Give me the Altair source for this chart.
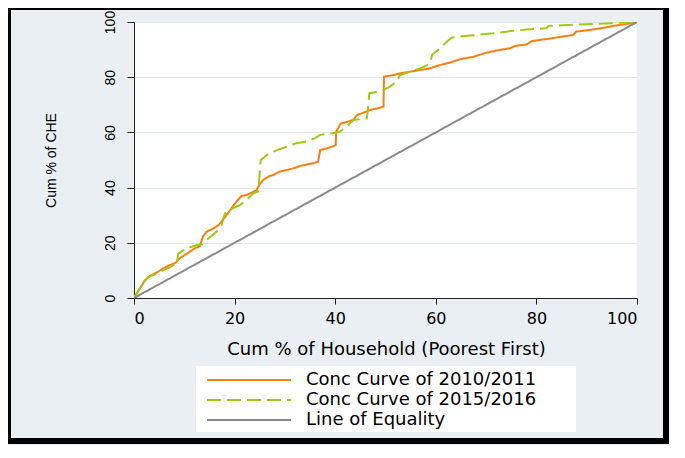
import altair as alt
import pandas as pd

# Concentration curve 2010/2011 (cum % households, cum % CHE)
x_2010 = [0, 1.2, 2.2, 3.2, 4.8, 5.8, 7.2, 8.2, 9.1, 10.5, 12.1, 13.1, 13.7, 14.4, 15.8, 16.8,
          17.4, 18.4, 19.5, 20.4, 21.4, 22.4, 23.4, 24.4, 24.9, 25.7, 26.7, 27.7, 29.0, 30.4,
          31.7, 33.0, 34.3, 35.6, 36.6, 37.0, 38.3, 39.6, 40.1, 40.2, 41.1, 42.3, 43.6, 44.3,
          45.6, 46.9, 48.3, 49.6, 49.7, 51.6, 52.9, 54.9, 56.9, 58.8, 60.8, 62.8, 64.8, 67.5,
          70.1, 72.8, 74.8, 75.7, 78.1, 79.1, 82.0, 84.7, 87.3, 87.9, 91.3, 94.0, 95.3, 98.0, 100]
y_2010 = [0, 3.5, 6.5, 8.0, 9.5, 10.7, 12.0, 12.6, 14.4, 16.1, 18.0, 18.8, 22.2, 24.0, 25.2, 26.4,
          27.7, 30.0, 32.8, 35.0, 37.0, 37.3, 38.2, 39.1, 41.0, 42.8, 44.0, 44.6, 45.8, 46.4,
          47.0, 47.8, 48.4, 48.8, 49.4, 53.6, 54.2, 55.0, 55.4, 60.3, 63.2, 63.8, 64.5, 66.3,
          67.1, 68.1, 68.7, 69.3, 80.2, 80.8, 81.4, 82.0, 82.6, 83.2, 84.4, 85.3, 86.5, 87.4,
          88.9, 89.9, 90.5, 91.3, 91.9, 93.1, 93.8, 94.6, 95.3, 96.5, 97.3, 98.1, 98.6, 99.3, 100]

# Concentration curve 2015/2016
x_2015 = [0, 0.9, 1.9, 2.8, 3.8, 4.8, 5.8, 7.0, 8.5, 8.8, 10.5, 12.5, 13.5, 14.4, 16.4, 17.4,
          18.1, 19.1, 21.1, 22.4, 23.7, 24.7, 25.2, 26.4, 28.4, 30.4, 32.3, 34.3, 36.0, 37.0,
          39.6, 41.0, 42.3, 43.6, 46.3, 46.8, 48.9, 49.6, 50.9, 52.2, 52.9, 54.9, 56.9, 58.3,
          58.8, 59.3, 61.1, 62.1, 63.1, 65.1, 68.1, 71.4, 74.8, 78.1, 82.0, 82.4, 85.9, 91.3,
          95.3, 100]
y_2015 = [0, 2.9, 5.6, 7.5, 8.3, 8.9, 10.1, 11.0, 12.5, 16.1, 18.0, 19.2, 19.4, 21.0, 24.0, 26.4,
          30.7, 31.9, 33.7, 35.5, 37.9, 38.6, 50.0, 51.8, 53.6, 54.8, 56.1, 56.7, 57.9, 59.1,
          59.7, 60.3, 62.1, 64.5, 65.1, 74.2, 74.8, 75.4, 76.6, 78.5, 80.8, 82.0, 83.2, 84.4,
          85.0, 88.2, 90.8, 92.7, 94.3, 94.8, 95.3, 95.9, 96.7, 97.3, 97.7, 98.6, 98.9, 99.3,
          99.6, 100]

# Line of equality
x_eq = [0, 100]
y_eq = [0, 100]

series_names = ["Conc Curve of 2010/2011", "Conc Curve of 2015/2016", "Line of Equality"]
series_colors = ["#ff7f0e", "#99cc11", "#8a8a8a"]
series_dash = [[1, 0], [14, 6], [1, 0]]
x_ticks = [0, 20, 40, 60, 80, 100]
y_ticks = [0, 20, 40, 60, 80, 100]

rows = []
for name, xs, ys in zip(series_names, [x_2010, x_2015, x_eq], [y_2010, y_2015, y_eq]):
    for i, (a, b) in enumerate(zip(xs, ys)):
        rows.append({"series": name, "order": i, "x": a, "y": b})
df = pd.DataFrame(rows)

HFONT = "DejaVu Sans"
VFONT = "Liberation Sans"

one = pd.DataFrame({"k": [0]})

frame = alt.Chart(one).mark_rect(
    fillOpacity=0, stroke="#000000", strokeWidth=6
).encode(
    x=alt.value(-126), x2=alt.value(532), y=alt.value(-15), y2=alt.value(419)
)

legend_box = alt.Chart(one).mark_rect(fill="#ffffff").encode(
    x=alt.value(62), x2=alt.value(442), y=alt.value(344), y2=alt.value(410)
)

lines = alt.Chart(df).mark_line(strokeWidth=2, clip=True).encode(
    x=alt.X("x:Q", scale=alt.Scale(domain=[0, 100], nice=False),
            axis=alt.Axis(values=x_ticks, title="Cum % of Household (Poorest First)",
                          grid=False, tickSize=6, labelPadding=6,
                          labelFont=HFONT, labelFontSize=16,
                          titleFont=HFONT, titleFontSize=18, titleFontWeight="normal",
                          titleX=252, titleY=51, titleBaseline="middle",
                          domainColor="#222222", tickColor="#222222",
                          labelColor="#000000", titleColor="#000000")),
    y=alt.Y("y:Q", scale=alt.Scale(domain=[0, 100], nice=False),
            axis=alt.Axis(values=y_ticks, title="Cum % of CHE", grid=True,
                          gridColor="#dde8ee", gridWidth=1,
                          tickSize=7, labelPadding=10,
                          labelFont=VFONT, labelFontSize=14,
                          labelAngle=270, labelAlign="center", labelBaseline="bottom",
                          titleFont=VFONT, titleFontSize=14, titleFontWeight="normal",
                          titleAngle=270, titleX=-83, titleY=138,
                          titleAlign="center", titleBaseline="middle",
                          domainColor="#222222", tickColor="#222222",
                          labelColor="#000000", titleColor="#000000")),
    color=alt.Color("series:N",
                    scale=alt.Scale(domain=series_names, range=series_colors),
                    legend=alt.Legend(title=None, orient="none", legendX=72, legendY=348,
                                      symbolType="stroke", symbolSize=7056,
                                      symbolStrokeWidth=2, labelFont=HFONT, labelFontSize=18,
                                      padding=0, clipHeight=20, rowPadding=0,
                                      labelOffset=14,
                                      labelColor="#000000", labelLimit=400)),
    strokeDash=alt.StrokeDash("series:N",
                              scale=alt.Scale(domain=series_names, range=series_dash),
                              legend=None),
    strokeWidth=alt.condition(alt.datum.series == "Line of Equality", alt.value(1.5), alt.value(2)),
    order="order:Q",
)

chart = alt.layer(frame, legend_box, lines).properties(
    width=503, height=276,
    background="#e9eff2",
    padding={"left": 126, "top": 14, "right": 33, "bottom": 147},
    autosize=alt.AutoSizeParams(type="none"),
).configure(font=HFONT).configure_view(fill="#ffffff", stroke=None)

chart.save("out.html", embed_options={"renderer": "svg", "actions": False})
